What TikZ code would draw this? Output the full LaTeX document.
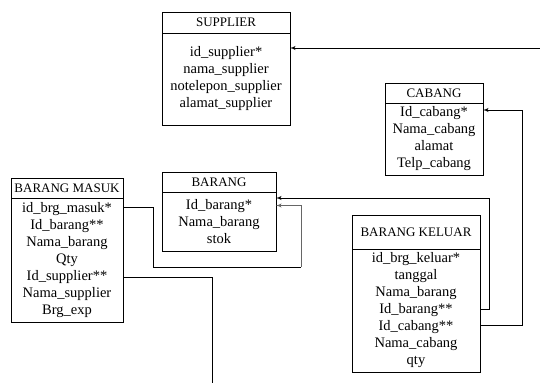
\documentclass[tikz,border=0pt]{standalone}
\usepackage{fontspec}
\setmainfont{Liberation Serif}
\usetikzlibrary{arrows, positioning}

\begin{document}
\begin{tikzpicture}[
        x=1pt, y=-1pt,
        head/.style={rectangle, draw, line width=0.7pt, anchor=north west, outer sep=0pt, inner sep=2pt, font=\fontsize{13}{15}\selectfont},
        body/.style={rectangle, draw, line width=0.7pt, align=center, outer sep=0pt, inner sep=2pt, font=\fontsize{14.5}{17}\selectfont},
        line/.style={draw, -latex', line width=0.9pt},
        faint/.style={draw, -latex', line width=0.9pt, black!60}
    ]
        \useasboundingbox (0,0) rectangle (540,383);

        % Tables: header on top, fields below
        \node [head, minimum width=128pt, minimum height=21pt] (shead) at (162,12) {SUPPLIER};
        \node [body, below=0pt of shead, minimum width=128pt, minimum height=92pt] (sbody) {id\_supplier*\\ nama\_supplier\\ notelepon\_supplier\\ alamat\_supplier};

        \node [head, minimum width=98pt, minimum height=20pt] (chead) at (385,83) {CABANG};
        \node [body, below=0pt of chead, minimum width=98pt, minimum height=72pt] (cbody) {Id\_cabang*\\ Nama\_cabang\\ alamat\\ Telp\_cabang};

        \node [head, minimum width=114pt, minimum height=20pt] (bhead) at (162,172) {BARANG};
        \node [body, below=0pt of bhead, minimum width=114pt, minimum height=59pt] (bbody) {Id\_barang*\\ Nama\_barang\\ stok};

        \node [head, minimum width=112pt, minimum height=20pt] (mhead) at (11,178) {BARANG MASUK};
        \node [body, below=0pt of mhead, minimum width=112pt, minimum height=124pt] (mbody) {id\_brg\_masuk*\\ Id\_barang**\\ Nama\_barang\\ Qty\\ Id\_supplier**\\ Nama\_supplier\\ Brg\_exp};

        \node [head, minimum width=128pt, minimum height=34pt] (khead) at (352,215) {BARANG KELUAR};
        \node [body, below=0pt of khead, minimum width=128pt, minimum height=123pt] (kbody) {id\_brg\_keluar*\\ tanggal\\ Nama\_barang\\ Id\_barang**\\ Id\_cabang**\\ Nama\_cabang\\ qty};

        % Loose ends at the page edge
        \coordinate (suptail) at (540,48);
        \coordinate (supfoot) at (212,383);

        % Edges
        \path [line] (suptail) -- (suptail -| sbody.east);
        \path [line] ([yshift=-14.5pt]kbody.east) -- ++(42,0) |- ([yshift=29pt]cbody.east);
        \path [line] ([yshift=1.5pt]kbody.east) -- ++(9,0) |- ([yshift=23.5pt]bbody.east);
        \draw [line width=0.9pt] ([yshift=53pt]mbody.east) -- ++(30,0) -- ++(0,60) -- ++(148,0) coordinate (mturn);
        \path [faint] (mturn) |- ([yshift=16pt]bbody.east);
        \draw [line width=0.9pt] ([yshift=-17pt]mbody.east) -| (supfoot);
    \end{tikzpicture}
\end{document}
